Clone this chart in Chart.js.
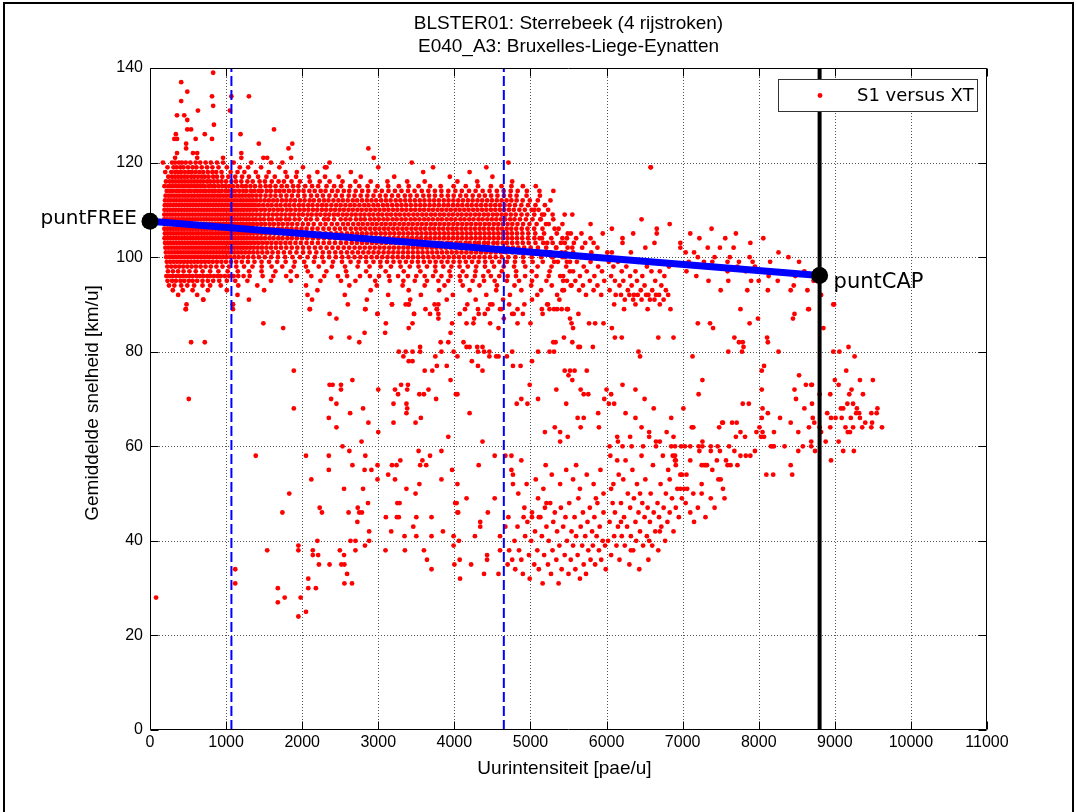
<!DOCTYPE html>
<html><head><meta charset="utf-8">
<script src="https://cdn.jsdelivr.net/npm/chart.js@4.4.1/dist/chart.umd.min.js"></script>
<style>html,body{margin:0;padding:0;background:#fff;}canvas{display:block;}</style>
</head><body>
<canvas id="c" width="1077" height="812"></canvas>
<script>
// ---- Chart texts ----
const titleLines = ['BLSTER01: Sterrebeek (4 rijstroken)', 'E040_A3: Bruxelles-Liege-Eynatten'];
const xAxisTitle = 'Uurintensiteit [pae/u]';
const yAxisTitle = 'Gemiddelde snelheid [km/u]';
const seriesName = 'S1 versus XT';

// ---- Reference lines / points ----
const puntFREE = {x: 0, y: 107.6};
const puntCAP = {x: 8800, y: 96.1};
const dashedFlows = [1070, 4650];

// ---- Measured points: dense free-flow band, per speed level (km/u) the flows (pae/u) ----
const speedLevels = [121,120,119,118,117,116,115,114,113,112,111,110,109,108,107,106,105,104,103,102,101,100,99,98,97,96,95,94,93,92,91,90,89,88];
const flowsPerLevel = [
 [330,620,1200,1490,2940],
 [170,290,330,380,420,470,530,600,660,730,800,880,960,1100,1330,1590,1740,2360,4710],
 [230,310,350,400,440,500,560,610,680,750,820,900,1010,1180,1290,1460,1700,2010,2300,3000,4420,6580],
 [200,280,330,370,410,460,510,550,600,650,700,760,820,870,940,1060,1150,1240,1390,1560,1780,1930,2200,2640,3590],
 [240,290,330,370,410,450,490,540,580,630,680,720,770,830,880,950,1030,1120,1210,1300,1420,1530,1640,1800,1920,2090,2300,2480,2770,3210,3940,4500],
 [210,260,300,340,380,420,460,500,540,580,620,660,700,750,790,840,890,940,1000,1070,1130,1200,1280,1350,1440,1510,1600,1690,1760,1860,1970,2100,2230,2360,2530,2700,2900,3120,3380,3610,4040,4300,4760],
 [190,240,280,320,360,400,440,480,520,560,600,640,680,720,770,810,850,900,950,990,1040,1090,1150,1210,1260,1320,1380,1450,1520,1580,1650,1730,1800,1880,1950,2040,2130,2210,2320,2420,2510,2630,2750,2860,2990,3130,3270,3400,3530,3680,3820,3990,4150,4310,4480,4620,4750,4900,5070],
 [220,262,297,343,381,424,458,503,537,584,619,662,703,737,781,826,858,904,941,993,1028,1084,1117,1172,1226,1268,1327,1371,1426,1468,1534,1587,1652,1703,1761,1826,1887,1953,2018,2094,2165,2243,2307,2392,2466,2547,2618,2703,2788,2869,2963,3047,3134,3219,3305,3391,3477,3572,3658,3744,3829,3921,4013,4098,4193,4279,4372,4463,4558,4648,4741,4832,4953,5118,5301],
 [205,244,281,318,356,392,433,468,505,546,581,622,657,696,734,773,812,848,889,925,968,1006,1049,1088,1129,1171,1212,1256,1301,1343,1396,1452,1519,1584,1648,1719,1793,1866,1945,2031,2117,2196,2273,2357,2441,2522,2611,2688,2769,2856,2937,3021,3098,3181,3262,3349,3422,3507,3592,3667,3745,3831,3914,3991,4078,4155,4241,4326,4401,4483,4566,4651,4734,4818,4949,5124],
 [198,237,271,311,347,386,421,461,497,535,571,609,648,684,723,761,798,838,873,913,949,990,1027,1068,1106,1147,1189,1229,1272,1314,1356,1401,1452,1508,1563,1619,1672,1734,1791,1849,1906,1971,2032,2098,2154,2223,2287,2346,2411,2476,2535,2599,2665,2722,2786,2851,2911,2972,3038,3101,3162,3229,3291,3354,3418,3481,3545,3607,3672,3734,3796,3861,3923,3987,4051,4113,4178,4240,4304,4366,4431,4493,4558,4621,4686,4749,4818,4898,4991,5097,5263],
 [195,232,268,307,344,382,419,455,494,529,568,604,641,679,718,755,791,830,868,905,944,982,1019,1058,1097,1135,1173,1214,1255,1296,1338,1380,1431,1487,1545,1598,1660,1716,1779,1833,1895,1958,2015,2079,2136,2201,2262,2318,2383,2447,2506,2568,2631,2689,2752,2816,2873,2937,2996,3061,3119,3183,3244,3305,3366,3428,3491,3553,3612,3675,3737,3798,3861,3919,3982,4043,4104,4168,4227,4290,4351,4413,4476,4537,4598,4660,4725,4797,4880,4968,5066,5190],
 [191,229,263,302,338,377,412,451,486,525,560,599,635,674,709,748,783,823,858,897,933,972,1007,1047,1082,1122,1157,1198,1235,1277,1316,1360,1403,1459,1511,1570,1625,1682,1736,1797,1850,1911,1967,2025,2082,2142,2198,2259,2315,2375,2432,2492,2549,2609,2666,2726,2783,2843,2900,2960,3017,3077,3134,3194,3251,3311,3368,3428,3485,3545,3602,3662,3719,3779,3836,3896,3953,4013,4070,4130,4187,4247,4304,4364,4421,4481,4538,4598,4655,4717,4781,4854,4926,5015,5107,5232],
 [188,226,264,299,337,373,412,447,486,521,559,595,634,669,707,743,781,817,856,891,930,965,1004,1039,1078,1113,1152,1187,1228,1265,1308,1349,1397,1446,1503,1557,1614,1668,1725,1781,1840,1894,1955,2009,2071,2125,2187,2240,2302,2356,2417,2472,2533,2588,2649,2704,2765,2820,2881,2936,2997,3052,3113,3168,3229,3284,3345,3400,3461,3516,3577,3632,3693,3748,3809,3864,3925,3980,4041,4096,4157,4212,4273,4328,4389,4444,4505,4560,4621,4676,4742,4806,4882,4958,5050,5152,5291],
 [187,223,262,296,335,371,409,444,483,519,556,594,629,668,705,740,779,815,853,890,925,964,1001,1037,1076,1112,1150,1189,1224,1266,1304,1351,1392,1447,1498,1561,1607,1672,1719,1784,1833,1902,1964,2051,2113,2196,2287,2342,2419,2506,2571,2633,2707,2769,2824,2893,2951,3008,3069,3124,3188,3243,3305,3361,3426,3482,3541,3603,3659,3718,3781,3836,3899,3957,4014,4078,4133,4195,4252,4317,4371,4433,4492,4551,4612,4668,4733,4791,4862,4941,5027,5136],
 [193,231,266,304,343,378,417,452,490,527,563,602,637,676,712,749,787,822,861,897,934,972,1009,1045,1084,1119,1158,1196,1233,1273,1314,1357,1409,1461,1514,1573,1628,1689,1746,1808,1869,1936,2008,2079,2152,2238,2307,2389,2461,2538,2602,2671,2738,2797,2859,2921,2979,3042,3098,3159,3216,3278,3336,3397,3453,3514,3572,3631,3692,3749,3808,3868,3926,3986,4043,4104,4163,4221,4282,4339,4401,4458,4519,4577,4638,4699,4762,4829,4903,4987,5081,5204],
 [189,227,263,301,339,375,414,449,487,524,560,598,634,673,709,746,784,819,857,894,931,969,1006,1042,1081,1117,1155,1193,1231,1270,1311,1355,1403,1455,1506,1566,1620,1681,1738,1799,1860,1925,1991,2058,2133,2203,2279,2352,2428,2497,2566,2639,2705,2768,2830,2894,2956,3015,3077,3134,3196,3254,3317,3373,3436,3494,3555,3614,3676,3733,3795,3853,3914,3973,4031,4093,4150,4212,4270,4331,4388,4450,4507,4569,4627,4688,4748,4813,4885,4961,5049,5158,5317],
 [196,234,270,308,345,381,420,455,493,530,566,605,640,679,715,752,790,825,864,900,937,975,1012,1048,1087,1122,1161,1199,1236,1277,1319,1363,1414,1467,1523,1579,1637,1694,1757,1815,1879,1944,2012,2085,2157,2231,2306,2377,2449,2516,2589,2656,2722,2786,2847,2912,2970,3033,3092,3152,3211,3273,3331,3392,3449,3511,3568,3629,3687,3747,3805,3866,3923,3984,4042,4102,4161,4219,4280,4338,4398,4457,4516,4576,4634,4696,4757,4823,4894,4972,5063,5179,5346],
 [191,229,265,303,340,377,415,451,488,526,562,600,636,674,711,747,785,821,859,896,932,970,1008,1043,1082,1118,1156,1195,1232,1272,1313,1358,1406,1458,1511,1570,1624,1686,1741,1806,1864,1930,1998,2066,2141,2213,2286,2361,2433,2502,2574,2641,2709,2772,2836,2898,2960,3021,3083,3142,3204,3263,3324,3384,3444,3505,3563,3625,3684,3744,3803,3863,3922,3982,4041,4101,4160,4220,4279,4339,4398,4458,4517,4577,4637,4698,4759,4823,4892,4967,5052,5151,5274,5420],
 [198,236,273,311,348,386,423,460,498,535,571,609,646,683,721,758,795,832,870,907,944,982,1019,1056,1094,1131,1169,1208,1247,1289,1332,1379,1429,1483,1538,1596,1657,1716,1780,1843,1912,1983,2057,2129,2207,2282,2356,2431,2508,2579,2652,2719,2787,2851,2917,2978,3042,3103,3166,3226,3289,3349,3411,3472,3538,3591,3658,3712,3781,3834,3903,3957,4026,4079,4148,4201,4269,4323,4391,4444,4513,4566,4635,4690,4759,4827,4899,4977,5066,5168,5292,5451],
 [203,241,279,317,355,392,430,468,505,543,580,618,656,693,731,768,806,844,881,919,957,994,1032,1070,1108,1147,1187,1228,1271,1316,1364,1416,1471,1530,1591,1655,1722,1791,1863,1936,2011,2089,2168,2243,2321,2398,2473,2546,2618,2689,2757,2822,2889,2953,3017,3079,3144,3205,3268,3331,3392,3456,3517,3579,3642,3704,3766,3827,3891,3952,4014,4077,4138,4201,4263,4325,4388,4449,4512,4574,4637,4702,4769,4841,4918,5003,5098,5207,5336,5488],
 [209,249,288,327,366,405,444,483,522,561,600,639,678,717,756,795,834,873,912,951,990,1030,1071,1113,1157,1203,1251,1302,1356,1414,1476,1541,1610,1683,1760,1841,1925,2012,2098,2186,2271,2354,2435,2512,2589,2661,2734,2803,2872,2938,3004,3070,3135,3198,3263,3327,3391,3455,3519,3582,3646,3710,3774,3838,3902,3966,4030,4094,4158,4222,4286,4350,4414,4478,4544,4612,4684,4761,4843,4931,5027,5135,5262,5409,5561],
 [214,256,297,338,379,420,461,502,543,584,625,666,707,748,789,830,872,915,960,1007,1057,1110,1166,1226,1290,1358,1431,1509,1592,1681,1776,1873,1972,2071,2168,2263,2354,2442,2527,2609,2688,2765,2839,2912,2983,3052,3121,3189,3256,3323,3390,3457,3524,3591,3658,3725,3792,3859,3926,3993,4060,4127,4194,4261,4328,4397,4468,4543,4623,4709,4802,4904,5017,5142,5289,5453],
 [221,266,311,356,401,446,491,536,582,628,675,723,773,825,880,938,999,1064,1133,1207,1287,1373,1466,1565,1671,1783,1902,2027,2154,2281,2405,2523,2636,2742,2842,2937,3028,3115,3200,3282,3363,3442,3521,3599,3677,3754,3832,3910,3989,4069,4150,4233,4318,4405,4496,4591,4690,4796,4908,5029,5162,5311,5479],
 [228,279,331,383,436,490,546,604,665,730,799,873,953,1040,1134,1236,1347,1468,1598,1738,1889,2049,2218,2391,2563,2729,2885,3031,3167,3294,3414,3529,3640,3748,3855,3961,4068,4176,4287,4402,4522,4649,4785,4932,5094,5277],
 [236,301,369,441,518,601,691,790,899,1020,1154,1302,1466,1648,1850,2074,2318,2577,2841,3097,3335,3553,3752,3936,4110,4279,4448,4624,4812,5018,5252,5517],
 [215,260,300,345,390,430,475,520,560,610,655,700,750,790,840,885,930,985,1040,1100,1160,1230,1310,1480,1620,1790,1930,2120,2290,2470,2590,2760,2890,3010,3140,3260,3390,3500,3610,3720,3830,3950,4070,4160,4270,4380,4480,4590,4700,4810,4930,5080,5240,5390],
 [230,290,340,400,450,510,560,620,690,760,830,910,1010,1120,1280,1590,1850,2240,2510,2700,2960,3150,3330,3480,3640,3790,3920,4080,4240,4390,4530,4690,4850,5020,5210,5430],
 [250,320,410,490,580,690,790,930,1160,1410,2050,2620,2980,3320,3610,3870,4110,4330,4560,4790,5010,5280,5530],
 [300,430,560,760,1010,1500,2200,2900,3400,3800,4200,4550,4880,5140,5420],
 [370,620,1150,2070,2560,3130,3560,3980,4420,4730,5090,5350],
 [700,1300,2130,2850,3420,3900,4280,4640,5020,5380],
 [480,1090,2600,3180,3400,3740,4170,4470,4920,5230],
 [470,1090,2100,2830,3770,4140,4600,5250,5490],
 [2990,3470,3790,4070,4400,4760,5160]
];

// ---- Measured points: single [flow, speed] pairs ----
const upperOutliers = [[830,139],[410,137],[490,135],[815,134],[1070,134],[1300,134],[410,133],[830,132],[1050,131],[630,131],[355,130],[450,130],[490,129],[840,128],[540,127],[490,127],[1630,127],[340,126],[720,126],[320,125],[355,125],[600,125],[815,125],[1190,126],[475,124],[1430,124],[1870,124],[2870,123],[1820,123],[475,123],[565,122],[620,122],[355,122],[1200,122],[1540,121],[1855,121],[960,121],[2320,119],[3440,120],[3720,119],[4200,118],[6580,119]];

const transitionPoints = [[5450,109],[5550,109],[5790,107],[6070,106],[6460,108],[6830,107],[6660,106],[6660,105],[6350,105],[5950,105],[5670,105],[5490,105],[5530,105],[6210,104],[6210,103],[6630,103],[6970,103],[5830,103],[5790,104],[5570,103],[6010,101],[6070,101],[6320,101],[6510,102],[6970,102],[7040,101],[7150,101],[7330,102],[7490,102],[7670,102],[7080,99],[7280,99],[7390,99],[7590,99],[7740,99],[7920,99],[5660,100],[7300,98],[7450,98],[7590,97],[7720,98],[7830,97],[7950,98],[8000,95],[8130,96],[7500,93],[7850,93],[8120,93],[8420,93],[8460,94],[8640,93],[8660,89],[8820,92],[8990,90],[7760,89],[5440,93],[5490,89],
 [6030,99],[6090,98],[6150,99],[6200,97],[6260,98],[6310,96],[6380,97],[6420,99],[6470,96],[6530,98],[6590,97],[6640,95],[6700,97],[6760,96],[6820,98],[6060,96],[6110,95],[6170,94],[6220,95],[6280,93],[6330,94],[6360,92],[6400,95],[6450,93],[6500,94],[6550,92],[6600,93],[6650,92],[6720,94],[6780,93],[6040,93],[6120,92],[6190,92],[6240,91],[6300,92],[6350,91],[6410,92],[6460,91],[6520,92],[6570,91],[6630,91],[6690,92],[6750,91],[6810,92],[6100,90],[6230,89],[6380,90],[6540,89],[6700,90],[6840,89],
 [5420,100],[5470,98],[5520,99],[5560,97],[5610,99],[5650,96],[5700,98],[5740,97],[5790,99],[5840,96],[5890,98],[5940,97],[5430,96],[5480,95],[5540,94],[5590,95],[5640,93],[5690,94],[5730,92],[5780,95],[5830,93],[5880,94],[5930,92],[5970,95],
 [5050,110],[5130,108],[5180,109],[5240,107],[5300,108],[5370,106],[5420,107],[5480,104],[5120,104],[5220,103],[5340,102],[5400,103],[5170,101],[5290,100],[5360,99],[5460,101],[5550,102],[5600,104],[5680,102],[5720,103],[5800,101],[5880,102],[5920,100],
 [7100,105],[7220,104],[7380,106],[7560,104],[7700,105],[7890,103],[8060,104],[8260,101],[8390,100],[8530,99],[8600,97],[7200,100],[7420,100],[7620,100],[7880,100],[8150,99],[8310,97],[8480,96],[8720,95],[7050,97],[7180,96],[7340,95],[7600,95],[7900,95],[8250,95]];

const slowScatter = [[2100,89],[2360,88],[2450,87],[2380,83],[2620,83],[2750,82],[2820,84],[2830,89],[2990,88],[3100,86],[3090,84],[3180,90],[3360,90],[3400,90],[3270,80],[3330,79],[3360,80],[3400,78],[3450,78],[3550,81],[3550,80],[3450,80],[3470,88],[3450,86],[3400,85],[3620,89],[3680,88],[3790,90],[3770,89],[3790,87],[3610,76],[3710,76],[3750,79],[3770,77],[3900,77],[3820,82],[3920,82],[3950,84],[3970,86],[3830,80],[3990,80],[4040,79],[3950,74],[4040,71],[4120,82],[4160,81],[4200,81],[4160,86],[4230,78],[4250,86],[4260,87],[4310,89],[4320,88],[4300,81],[4310,80],[4310,77],[4390,80],[4440,89],[4460,79],[4470,86],[4580,79],[4620,89],[4650,87],[4760,80],[4770,77],[4830,89],[1490,86],[1750,85],[1090,90],[700,91],[470,89],[720,82],[510,70],[540,82],
 [4500,90],[4720,90],[4780,88],[4900,88],[4830,86],[4580,85],[4370,81],[4460,80],[4550,79],[4690,79],[4370,76],[4990,73],[5100,70],[4820,69],[4880,70],[4960,69],[5340,72],[5450,76],[5520,76],[5580,76],[5500,75],[5550,74],[5660,72],[5700,71],[5760,71],[5740,76],[5470,69],[5190,63],[5320,64],[5390,63],[5490,62],[5390,61],[5620,66],[5700,66],[5660,64],[5900,64],[5890,67],[5970,70],[6000,72],[6030,69],[6060,71],[6100,69],[5100,80],[5250,80],[5310,80],[5330,82],[5300,82],[5440,83],[5550,82],[5630,81],[5650,81],[5820,81],[5150,89],[5220,90],[5310,89],[5350,89],[5410,89],[5480,89],[5520,87],[5540,86],[5560,85],[5630,88],[5770,86],[5850,86],[5960,86],[5000,86],[5020,78],[4870,77],[6070,85],[6110,83],[6200,83],[6420,80],[6440,79],[6680,83],[6880,83],[7130,79],[7200,86],[7360,86],[7400,85],[7600,80],[7780,80],[7800,81],[7790,82],[7680,83],[7740,82],[7880,86],[7990,87],[8110,83],[8120,82],[8260,80],[8450,87],[8470,88],[8650,89],[6210,73],[6380,72],[6500,70],[6620,68],[6850,66],[6380,66],[6460,64],[6250,67],[6150,61],[6310,62],[6560,63],[6650,61],[6790,63],[6900,60]];

const congestedLow = [[80,28],[1540,38],[1680,30],[1680,27],[1740,46],[1770,28],[1830,50],[1950,39],[1950,38],[1950,24],[1980,28],[2050,25],[2080,32],[2080,30],[2140,38],[2140,37],[2180,30],[2200,40],[2210,37],[2220,35],[2230,47],[2260,46],[2360,35],[1390,58],[1890,68],[1890,76],[2050,58],[2120,53],[1120,34],[1120,31],
 [2360,73],[2400,73],[2510,73],[2510,72],[2660,74],[2380,70],[2450,69],[2350,66],[2630,67],[2800,68],[2450,64],[2870,65],[3000,72],[3000,63],[3200,65],[3220,72],[3260,71],[3300,73],[3380,72],[3390,73],[3200,69],[3370,69],[3380,68],[3370,67],[3560,66],[3490,65],[3540,71],[3600,71],[3660,72],[3760,70],[4020,71],[3920,62],[4200,67],[4370,61],[4530,58],[2530,60],[2350,58],[2620,59],[2830,58],[2780,61],[2350,55],[2660,56],[2820,55],[2910,55],[2800,51],[2550,51],[2990,56],[2990,53],[3130,54],[3180,56],[3240,56],[3290,57],[3280,48],[3220,53],[3370,51],[3490,50],[3540,52],[3550,56],[3630,56],[3580,57],[3530,59],[3680,58],[3830,53],[3830,59],[3970,55],[4040,52],[4010,48],[4040,46],[4160,49],[4320,56],[4530,49],[4670,58],[4750,58],[4750,55],[4770,54],[4770,52],[4880,57],
 [2495,38],[2515,35],[2555,35],[2550,37],[2555,31],[2590,33],[2610,46],[2635,40],[2655,31],[2700,40],[2725,44],[2785,46],[2700,38],[2730,47],[2750,46],[2825,39],[2865,48],[2880,42],[2880,40],[3100,45],[3095,38],[3170,42],[3245,45],[3270,45],[3250,48],[3345,41],[3350,38],[3460,43],[3500,45],[3500,41],[3600,38],[3640,36],[3700,45],[3700,41],[3700,34],[3850,42],[3990,41],[3990,39],[4000,35],[4030,48],[4050,46],[4060,40],[4070,36],[4075,32],[4220,35],[4270,41],[4340,44],[4340,43],[4390,33],[4430,36],[4430,37],[4440,46],[4580,33],[4600,38],[4600,41],[4670,43],[4700,35],[4710,45]];

const congestedMid = [[4720,38],[4760,36],[4800,34],[4790,40],[4830,43],[4850,38],[4880,36],[4900,33],[4920,47],[4930,41],[4960,44],[4980,37],[4990,32],[5010,40],[5020,46],[5050,35],[5060,42],[5090,38],[5100,49],[5110,34],[5130,45],[5150,41],[5160,31],[5180,37],[5190,47],[5210,43],[5230,35],[5240,40],[5260,48],[5270,33],[5290,38],[5300,44],[5320,46],[5340,36],[5350,42],[5370,31],[5380,39],[5400,47],[5410,34],[5430,43],[5450,37],[5460,45],[5480,40],[5500,33],[5510,48],[5530,36],[5540,42],[5560,39],[5580,45],[5590,34],[5600,41],[5620,37],[5630,49],[5650,32],[5660,43],[5680,39],[5690,46],[5700,35],[5720,41],[5730,33],[5750,44],[5760,38],[5780,47],[5790,36],[5810,42],[5820,39],[5840,45],[5850,35],[5870,41],[5880,48],[5900,38],[5910,43],[5930,36],[5950,40],[5960,46],[5980,39],[5990,34],
 [4840,50],[4950,52],[5070,53],[5170,51],[5280,54],[5390,52],[5470,55],[5560,53],[5650,51],[5740,54],[5830,52],[5920,55],[5960,50],[5200,56],[5600,56],[5860,49],[4910,45],[5020,45],[5110,45],[5210,48],
 [6020,40],[6040,44],[6050,58],[6060,37],[6080,48],[6090,52],[6100,41],[6110,46],[6130,39],[6140,57],[6150,43],[6160,54],[6170,36],[6190,48],[6200,41],[6220,53],[6230,45],[6240,39],[6250,57],[6270,43],[6280,50],[6300,35],[6310,47],[6320,41],[6340,55],[6350,38],[6360,49],[6380,44],[6390,40],[6400,52],[6420,46],[6430,34],[6440,42],[6460,58],[6470,48],[6480,39],[6500,45],[6510,53],[6530,41],[6540,47],[6550,36],[6570,44],[6580,50],[6600,39],[6610,56],[6620,46],[6640,42],[6650,60],[6670,48],[6680,38],[6690,45],[6710,52],[6720,43],[6740,58],[6750,47],[6770,40],[6780,50],[6800,44],[6810,55],[6830,46],[6850,60],[6860,49],[6880,42],[6900,57],[6910,47],[6930,51],[6950,45],[6970,54],[6980,60],[6990,49],
 [6040,60],[6210,60],[6330,60],[6480,60],[6560,62],[6700,61],[6880,62],[6140,62],[6060,51],[6190,44],[6320,38],[6440,50],[6560,40],[6700,42],[6830,53]];

const congestedHigh = [[7030,60],[7100,60],[7210,60],[7100,57],[6990,54],[7050,54],[6970,51],[7020,51],[7060,51],[6910,56],[6910,57],[6870,58],[6900,58],[7370,60],[7460,60],[7490,59],[7260,60],[7370,59],[7220,59],[7250,56],[7280,56],[7300,56],[7320,56],[7390,55],[7250,52],[7250,50],[7370,49],[7480,64],[7530,65],[7140,64],[7260,61],[7470,53],[7500,53],[7530,51],[7550,49],[7720,56],[7630,56],[7590,56],[7570,57],[7760,58],[7830,58],[7890,58],[7760,63],[7820,62],[7700,62],[7710,65],[7650,65],[7520,65],[7100,46],[7150,44],[7200,47],[7300,45],[7420,47],[7040,48],[7140,50],[7450,57],[7610,60],[7680,59],
 [7970,63],[8030,62],[8010,64],[8050,63],[8070,62],[8120,67],[8040,66],[8050,68],[7790,69],[7950,59],[8200,63],[8340,60],[8200,60],[8180,60],[8160,60],[8420,56],[8440,54],[8190,54],[8100,54],[8420,65],[8520,63],[8690,61],[8690,60],[8580,60],[8520,59],[8740,59],[8700,73],[8690,73],[8620,73],[8530,75],[8470,72],[8490,70],[8700,69],[8710,66],[8730,65],[8660,64],[7870,69],[8040,72],[8040,76],[8070,77],[7260,74],[7210,71],[7010,68],[7120,64],[8280,66],[8600,68],
 [8980,90],[8850,85],[8980,80],[9060,80],[9180,81],[9260,79],[9150,76],[9000,74],[9050,73],[9330,74],[9500,74],[9370,71],[9220,72],[9190,71],[9165,69],[9240,69],[9110,68],[9080,68],[9290,68],[9320,67],[9280,67],[9330,66],[9480,67],[9550,67],[8900,67],[8950,66],[9010,66],[9090,66],[9210,66],[8800,71],[8940,71],[8940,64],[9140,64],[9170,63],[9240,64],[9360,64],[9480,64],[9490,65],[9620,64],[8800,64],[8820,63],[8880,61],[9050,61],[9110,59],[9250,59],[8950,57],[9200,63],[9400,65],[9560,68]];

// ---- Build the scatter data ----
const measured = [];
speedLevels.forEach((s, i) => flowsPerLevel[i].forEach(q => measured.push({x: q, y: s})));
[upperOutliers, transitionPoints, slowScatter, congestedLow, congestedMid, congestedHigh].forEach(g => g.forEach(([q, s]) => measured.push({x: q, y: s})));

const FONT = "'Liberation Sans', Arial, sans-serif";
const DJ = "'DejaVu Sans', sans-serif";

const decor = {
  id: 'decor',
  beforeDatasetsDraw(chart) {
    const {ctx, chartArea: a, scales: {x, y}} = chart;
    ctx.save();
    ctx.strokeStyle = '#555'; ctx.lineWidth = 1; ctx.setLineDash([1, 2]);
    x.ticks.forEach(t => {
      if (t.value <= x.min || t.value >= x.max) return;
      const p = Math.round(x.getPixelForValue(t.value)) + 0.5;
      ctx.beginPath(); ctx.moveTo(p, a.top); ctx.lineTo(p, a.bottom); ctx.stroke();
    });
    y.ticks.forEach(t => {
      if (t.value <= y.min || t.value >= y.max) return;
      const p = Math.round(y.getPixelForValue(t.value)) + 0.5;
      ctx.beginPath(); ctx.moveTo(a.left, p); ctx.lineTo(a.right, p); ctx.stroke();
    });
    ctx.restore();
  },
  afterDatasetsDraw(chart) {
    const {ctx, chartArea: a, scales: {x, y}} = chart;
    ctx.save();
    ctx.strokeStyle = '#000'; ctx.lineWidth = 1; ctx.setLineDash([]);
    const L = Math.round(a.left) + 0.5, R = Math.round(a.right) - 0.5, T = Math.round(a.top) + 0.5, B = Math.round(a.bottom) - 0.5;
    ctx.beginPath(); ctx.moveTo(L, T); ctx.lineTo(R, T); ctx.lineTo(R, B); ctx.lineTo(L, B); ctx.closePath(); ctx.stroke();
    const tl = 8;
    x.ticks.forEach(t => {
      const p = Math.round(x.getPixelForValue(t.value)) + 0.5;
      ctx.beginPath(); ctx.moveTo(p, B); ctx.lineTo(p, B - tl); ctx.moveTo(p, T); ctx.lineTo(p, T + tl); ctx.stroke();
    });
    y.ticks.forEach(t => {
      const p = Math.round(y.getPixelForValue(t.value)) + 0.5;
      ctx.beginPath(); ctx.moveTo(L, p); ctx.lineTo(L + tl, p); ctx.moveTo(R, p); ctx.lineTo(R - tl, p); ctx.stroke();
    });
    ctx.fillStyle = '#000';
    ctx.font = '20px ' + DJ;
    ctx.textBaseline = 'alphabetic';
    ctx.textAlign = 'right';
    ctx.fillText('puntFREE', x.getPixelForValue(puntFREE.x) - 13, y.getPixelForValue(puntFREE.y) + 3);
    ctx.textAlign = 'left';
    ctx.font = '21px ' + DJ;
    ctx.fillText('puntCAP', x.getPixelForValue(puntCAP.x) + 14, y.getPixelForValue(puntCAP.y) + 12);
    ctx.fillStyle = '#fff';
    ctx.fillRect(778, 79, 199, 32);
    ctx.strokeStyle = '#333';
    ctx.strokeRect(778.5, 79.5, 199, 32);
    ctx.fillStyle = '#ff0000';
    ctx.beginPath(); ctx.arc(820, 95.5, 2.4, 0, Math.PI * 2); ctx.fill();
    ctx.fillStyle = '#000';
    ctx.font = '18px ' + DJ;
    ctx.textAlign = 'left'; ctx.textBaseline = 'middle';
    ctx.fillText(seriesName, 857, 96);
    ctx.restore();
  },
  afterDraw(chart) {
    const {ctx, chartArea: a} = chart;
    ctx.save();
    ctx.fillStyle = '#000';
    ctx.font = '19px ' + FONT;
    ctx.textAlign = 'center'; ctx.textBaseline = 'middle';
    const cx = (a.left + a.right) / 2;
    ctx.fillText(titleLines[0], cx, 24);
    ctx.fillText(titleLines[1], cx, 47);
    ctx.fillText(xAxisTitle, cx - 4, 769);
    ctx.translate(93, (a.top + a.bottom) / 2 + 4);
    ctx.rotate(-Math.PI / 2);
    ctx.fillText(yAxisTitle, 0, 0);
    ctx.restore();
    ctx.save();
    ctx.fillStyle = '#000';
    ctx.fillRect(3, 2, 1071, 2);
    ctx.fillRect(3, 2, 2, 810);
    ctx.fillRect(1072, 2, 2, 810);
    ctx.restore();
  }
};

new Chart(document.getElementById('c'), {
  type: 'scatter',
  data: {
    datasets: [
      {label: seriesName, data: measured, backgroundColor: '#ff0000', borderWidth: 0, pointRadius: 2.4, pointHoverRadius: 2.4, order: 10},
      {label: 'fit', data: [puntFREE, puntCAP], showLine: true, borderColor: '#0000ff', borderWidth: 7, pointRadius: 0, order: 3},
      {label: 'grens1', data: [{x: dashedFlows[0], y: 0}, {x: dashedFlows[0], y: 140}], showLine: true, borderColor: '#0000ff', borderWidth: 2, borderDash: [10, 4], pointRadius: 0, order: 2},
      {label: 'grens2', data: [{x: dashedFlows[1], y: 0}, {x: dashedFlows[1], y: 140}], showLine: true, borderColor: '#0000ff', borderWidth: 2, borderDash: [10, 4], pointRadius: 0, order: 2},
      {label: 'capaciteit', data: [{x: puntCAP.x, y: 0}, {x: puntCAP.x, y: 140}], showLine: true, borderColor: '#000', borderWidth: 4, pointRadius: 0, order: 1},
      {label: 'punten', data: [puntFREE, puntCAP], backgroundColor: '#000', borderWidth: 0, pointRadius: 8.5, clip: false, order: 0}
    ]
  },
  options: {
    responsive: false,
    animation: false,
    events: [],
    layout: {padding: {left: 0, right: 90, top: 68, bottom: 0}},
    scales: {
      x: {
        type: 'linear', min: 0, max: 11000,
        ticks: {stepSize: 1000, color: '#000', font: {family: FONT, size: 16}, padding: 3, maxRotation: 0, autoSkip: false, callback: v => String(v)},
        grid: {display: false, drawTicks: false},
        border: {display: false},
        afterFit(s) { s.height = 82; }
      },
      y: {
        type: 'linear', min: 0, max: 140,
        ticks: {stepSize: 20, color: '#000', font: {family: FONT, size: 16}, padding: 7, autoSkip: false, callback: v => String(v)},
        grid: {display: false, drawTicks: false},
        border: {display: false},
        afterFit(s) { s.width = 150; }
      }
    },
    plugins: {legend: {display: false}, tooltip: {enabled: false}}
  },
  plugins: [decor]
});
</script>
</body></html>
